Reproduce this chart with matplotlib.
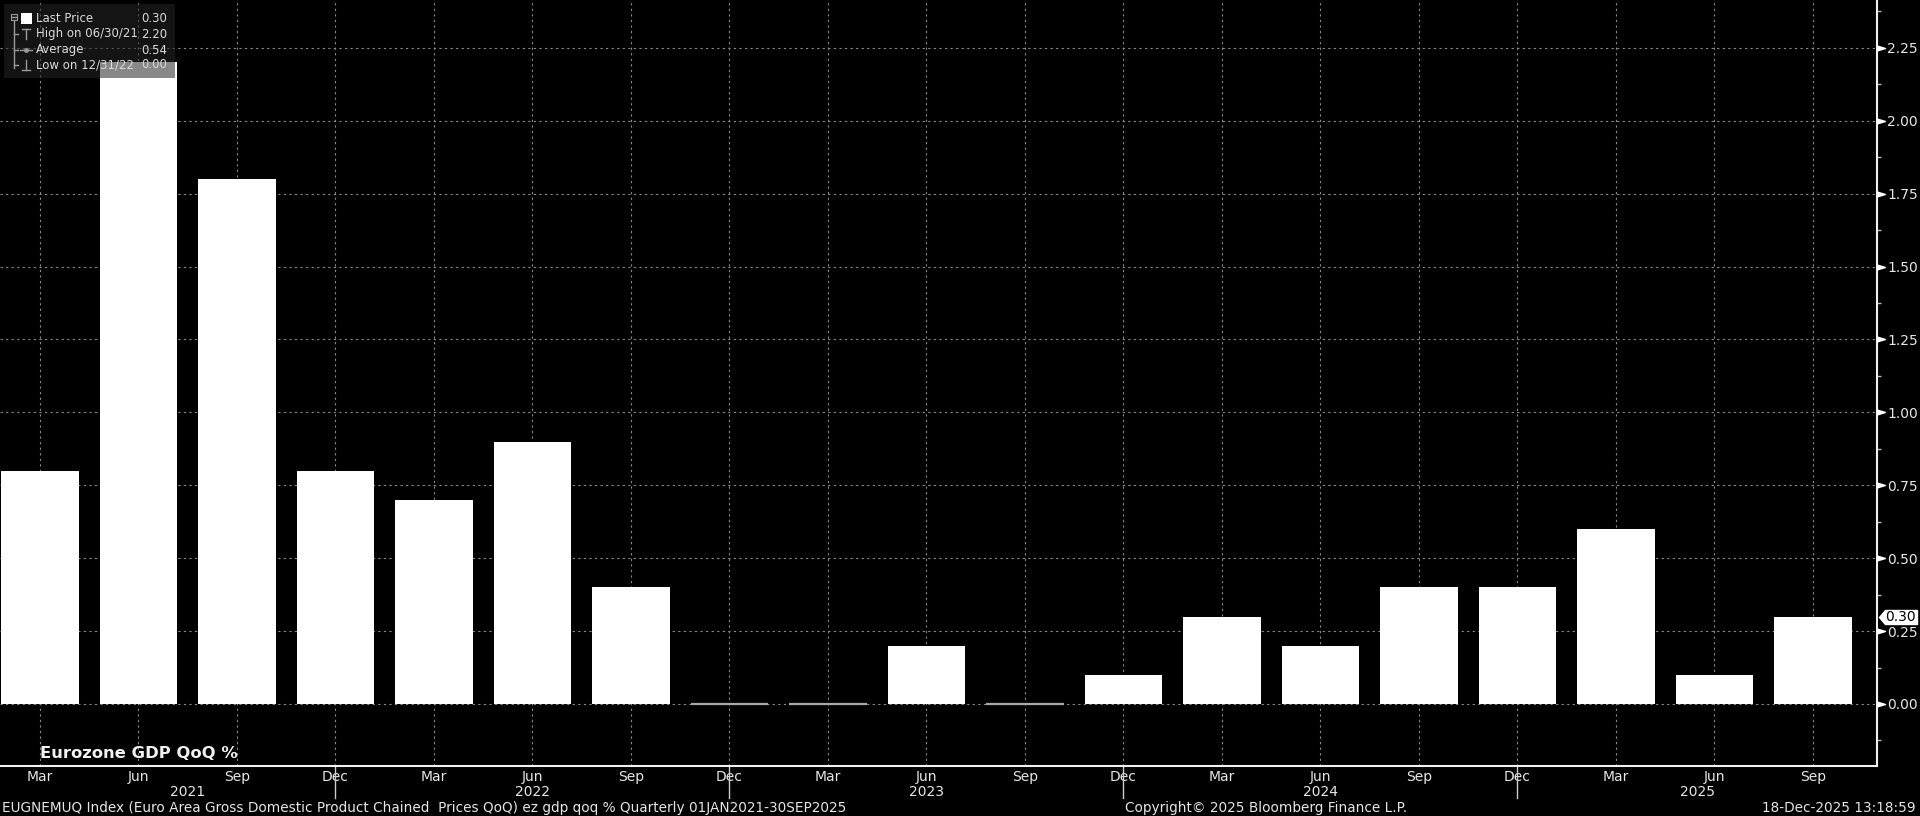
import numpy as np
import matplotlib
matplotlib.use('Agg')
import matplotlib.pyplot as plt
from matplotlib import transforms
from matplotlib.path import Path
from matplotlib.patches import Rectangle
from matplotlib.lines import Line2D
from matplotlib.ticker import FixedLocator

# quarterly data (quarter end dates)
quarter_ends = ['03/31/21', '06/30/21', '09/30/21', '12/31/21',
                '03/31/22', '06/30/22', '09/30/22', '12/31/22',
                '03/31/23', '06/30/23', '09/30/23', '12/31/23',
                '03/31/24', '06/30/24', '09/30/24', '12/31/24',
                '03/31/25', '06/30/25', '09/30/25']
gdp_qoq = [0.8, 2.2, 1.8, 0.8, 0.7, 0.9, 0.4, 0.0, 0.0, 0.2,
           0.0, 0.1, 0.3, 0.2, 0.4, 0.4, 0.6, 0.1, 0.3]
month_names = {'03': 'Mar', '06': 'Jun', '09': 'Sep', '12': 'Dec'}
y_ticks = [0.0, 0.25, 0.5, 0.75, 1.0, 1.25, 1.5, 1.75, 2.0, 2.25]
y_minor = [-0.125, 0.125, 0.375, 0.625, 0.875, 1.125, 1.375, 1.625, 1.875, 2.125, 2.375]

title = 'Eurozone GDP QoQ %'
footer_left = ('EUGNEMUQ Index (Euro Area Gross Domestic Product Chained  Prices QoQ) '
               'ez gdp qoq % Quarterly 01JAN2021-30SEP2025')
footer_mid = 'Copyright\u00a9 2025 Bloomberg Finance L.P.'
footer_right = '18-Dec-2025 13:18:59'

NARROW = ['Liberation Sans Narrow', 'DejaVu Sans']
W, H = 1920, 816
TXT = '#e6e6e6'

def fx(px):
    return px / W

def fy(py):
    return 1 - py / H

months = [month_names[d[:2]] for d in quarter_ends]
years = ['20' + d[-2:] for d in quarter_ends]
x = np.arange(len(gdp_qoq))
xmax = 18.65

fig = plt.figure(figsize=(19.2, 8.16), dpi=100, facecolor='black')
ax = fig.add_axes([0, fy(766), fx(1877), 766 / H])
ax.set_facecolor('black')

edge = ['#a8a8a8' if v == 0 else 'white' for v in gdp_qoq]
lw = [1.6 if v == 0 else 0 for v in gdp_qoq]
ax.bar(x, gdp_qoq, width=0.79, color='white', edgecolor=edge, linewidth=lw, zorder=3)

ax.set_xlim(-0.406, xmax)
ax.set_ylim(-0.2126, 2.414)

ax.set_xticks(x)
ax.set_xticklabels(months)
ax.yaxis.tick_right()
ax.set_yticks(y_ticks)
ax.set_yticklabels(['%.2f' % t for t in y_ticks])
ax.yaxis.set_minor_locator(FixedLocator(y_minor))
ax.tick_params(axis='x', length=0, pad=3, colors=TXT, labelsize=10)
ax.tick_params(axis='y', which='major', length=0, pad=7.5, colors=TXT, labelsize=10)
ax.tick_params(axis='y', which='minor', length=3, width=1, color='#bbbbbb', right=True, left=False)
for lab in ax.get_xticklabels() + ax.get_yticklabels():
    lab.set_family(NARROW)

ax.grid(True, color='#8a8a8a', linestyle=(0, (2, 3)), linewidth=0.8, zorder=1)
ax.set_axisbelow(True)

for s in ['left', 'top']:
    ax.spines[s].set_visible(False)
for s in ['right', 'bottom']:
    ax.spines[s].set_color('#f0f0f0')
    ax.spines[s].set_linewidth(1.5)

# triangle markers at major y ticks
yblend = transforms.blended_transform_factory(ax.transAxes, ax.transData)
tri = Path([(0, -0.3), (0, 0.3), (1, 0), (0, -0.3)],
           [Path.MOVETO, Path.LINETO, Path.LINETO, Path.CLOSEPOLY])
ax.plot(np.ones(len(y_ticks)), y_ticks, transform=yblend, marker=tri, markersize=11.5,
        linestyle='none', color='white', clip_on=False, zorder=5)

# last price tag
last = gdp_qoq[-1]
tag = Path([(2, 0), (8, 7), (40, 7), (40, -7), (8, -7), (2, 0)],
           [Path.MOVETO] + [Path.LINETO] * 4 + [Path.CLOSEPOLY])
ax.plot([1], [last], transform=yblend, marker=tag, markersize=57.6, linestyle='none',
        color='white', clip_on=False, zorder=6)
ax.annotate('%.2f' % last, xy=(1, last), xycoords=yblend, xytext=(6, 0),
            textcoords='offset points', va='center', ha='left', fontsize=10,
            color='black', family=NARROW, zorder=7, annotation_clip=False)

# year labels and separators
xblend = ax.get_xaxis_transform()
dec_idx = [i for i, m in enumerate(months) if m == 'Dec']
for yr in sorted(set(years)):
    idx = [i for i, y in enumerate(years) if y == yr]
    left = idx[0] - 1 if idx[0] > 0 else 0
    right = idx[-1] if months[idx[-1]] == 'Dec' else xmax
    ax.text((left + right) / 2, -0.0335, yr, transform=xblend, ha='center', va='center',
            fontsize=10, color=TXT, family=NARROW, clip_on=False)
for i in dec_idx:
    ax.plot([i, i], [0, -0.042], transform=xblend, color='#cccccc', lw=1, clip_on=False)

# title inside plot
fig.text(fx(40), fy(753), title, fontsize=11.8, fontweight='bold', color='#f2f2f2',
         va='center', ha='left', family='DejaVu Sans')

# footer
fig.text(fx(2), fy(808), footer_left, fontsize=9.8, color=TXT, va='center', ha='left', family=NARROW)
fig.text(fx(1125), fy(808), footer_mid, fontsize=9.8, color=TXT, va='center', ha='left', family=NARROW)
fig.text(fx(1916), fy(808), footer_right, fontsize=9.8, color=TXT, va='center', ha='right', family=NARROW)

# legend box (semi transparent)
fig.patches.append(Rectangle((fx(4), fy(78)), fx(171), 74 / H, transform=fig.transFigure,
                             facecolor='#262626', alpha=0.55, edgecolor='none', zorder=2))
imax = int(np.argmax(gdp_qoq))
imin = int(np.argmin(gdp_qoq))
rows = [('Last Price', last),
        ('High on ' + quarter_ends[imax], gdp_qoq[imax]),
        ('Average', np.mean(gdp_qoq)),
        ('Low on ' + quarter_ends[imin], gdp_qoq[imin])]
row_y = [19, 34, 50, 65]
for (lab, val), ry in zip(rows, row_y):
    fig.text(fx(36), fy(ry), lab, fontsize=8.5, color='#dadada', va='center', ha='left', zorder=4)
    fig.text(fx(167), fy(ry), '%.2f' % val, fontsize=8.5, color='#dadada', va='center', ha='right', zorder=4)

g = '#9a9a9a'
def fline(xs, ys, c=g, w=1):
    fig.lines.append(Line2D([fx(v) for v in xs], [fy(v) for v in ys], color=c, lw=w,
                            transform=fig.transFigure, zorder=4))

fig.patches.append(Rectangle((fx(11), fy(20)), fx(6), 6 / H, transform=fig.transFigure,
                             facecolor='none', edgecolor=g, lw=0.8, zorder=4))
fline([12, 16], [17, 17])
fline([14, 14], [20, 68])
for ry in row_y[1:]:
    fline([14, 18], [ry, ry])
fig.patches.append(Rectangle((fx(21), fy(24)), fx(11), 11 / H, transform=fig.transFigure,
                             facecolor='white', edgecolor='none', zorder=4))
fline([22, 30], [29, 29])
fline([26, 26], [29, 39])
fline([20, 32], [50, 50])
fig.lines.append(Line2D([fx(26)], [fy(50)], marker='o', markersize=2.5, color=g,
                        transform=fig.transFigure, zorder=4))
fline([26, 26], [60, 70])
fline([22, 30], [70, 70])

fig.savefig('out.png', dpi=100, facecolor='black')
